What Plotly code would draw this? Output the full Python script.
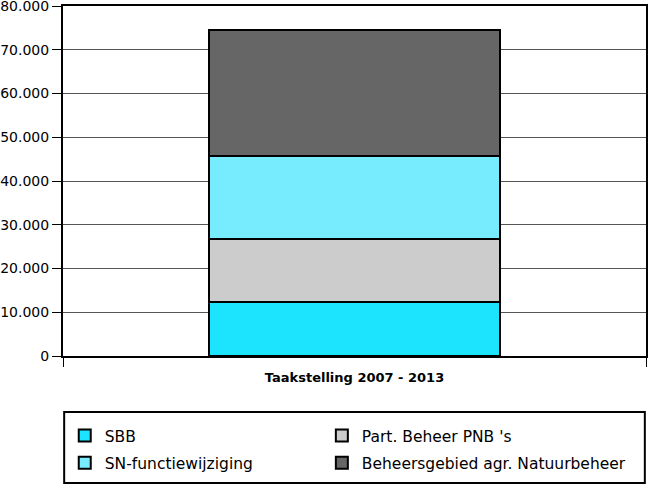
import plotly.graph_objects as go

categories = ["Taakstelling 2007 - 2013"]
series_names = ["SBB", "Part. Beheer PNB 's", "SN-functiewijziging", "Beheersgebied agr. Natuurbeheer"]
sbb = [12300]
part = [14400]
sn = [19000]
beheer = [28800]
colors = ["#1ce3fe", "#cccccc", "#77ecff", "#666666"]
legend_ids = ["legend", "legend2", "legend", "legend2"]
tick_vals = [0, 10000, 20000, 30000, 40000, 50000, 60000, 70000, 80000]

FONT = "DejaVu Sans, Arial, sans-serif"

fig = go.Figure()
for i, (name, vals, col, lg) in enumerate(zip(series_names, [sbb, part, sn, beheer], colors, legend_ids)):
    fig.add_trace(go.Bar(x=categories, y=vals, name=name, legend=lg, legendgroup=f"g{i}",
                         marker=dict(color=col, line=dict(color="black", width=2)),
                         width=0.5))

leg_common = dict(orientation="v", yanchor="top", xanchor="left", y=-0.18,
                  font=dict(size=15.5, family=FONT), traceorder="grouped",
                  tracegroupgap=4, bgcolor="rgba(0,0,0,0)")

fig.update_layout(
    barmode="stack",
    width=648, height=485,
    margin=dict(l=63, r=2, t=6, b=129, autoexpand=False),
    plot_bgcolor="white", paper_bgcolor="white",
    separators=",.",
    font=dict(family=FONT, size=14, color="black"),
    showlegend=True,
    legend=dict(x=0.003, **leg_common),
    legend2=dict(x=0.444, **leg_common),
    shapes=[dict(type="rect", xref="paper", yref="paper",
                 x0=0.002, x1=0.998, y0=-0.16, y1=-0.3629,
                 line=dict(color="black", width=2), fillcolor="rgba(0,0,0,0)")],
)
fig.update_yaxes(range=[0, 80000], tickvals=tick_vals, tickformat=",",
                 showgrid=True, gridcolor="#555555", gridwidth=1,
                 showline=True, linecolor="black", linewidth=2, mirror=True,
                 ticks="outside", ticklen=9, tickcolor="black", tickwidth=1,
                 tickfont=dict(size=14, family=FONT), zeroline=False,
                 ticklabeloverflow="allow")
fig.update_xaxes(showline=True, linecolor="black", linewidth=2, mirror=True,
                 ticks="outside", tickson="boundaries", ticklen=9, tickcolor="black",
                 tickfont=dict(size=13, family=FONT), ticklabelstandoff=8,
                 tickprefix="<b>", ticksuffix="</b>")

fig.write_html("out.html",
               config={"displayModeBar": False},
               post_script="document.body.style.margin='0';document.body.style.padding='0';")
